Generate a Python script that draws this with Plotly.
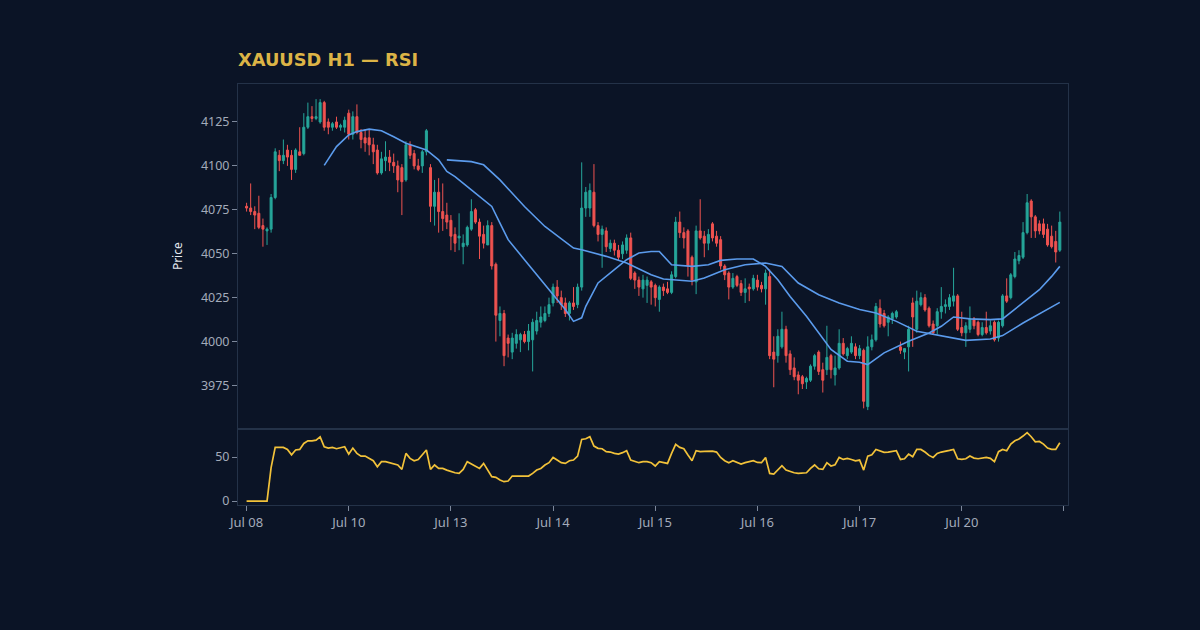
import plotly.graph_objects as go
from plotly.subplots import make_subplots

# hourly candles, indexed 0..199
opens = [4077, 4076, 4074, 4073, 4066, 4063, 4064, 4082, 4106, 4103,
         4109, 4106, 4098, 4108, 4107, 4122, 4128, 4127, 4125, 4136,
         4125, 4122, 4125, 4122, 4122, 4130, 4118, 4128, 4119, 4116,
         4116, 4112, 4109, 4096, 4103, 4105, 4102, 4100, 4099, 4092,
         4112, 4107, 4100, 4100, 4108, 4099, 4077, 4085, 4074, 4072,
         4069, 4061, 4059, 4054, 4055, 4064, 4075, 4068, 4061, 4055,
         4066, 4044, 4012, 4016, 4002, 3994, 3999, 4001, 4004, 4000,
         4001, 4006, 4011, 4012, 4016, 4022, 4031, 4025, 4022, 4016,
         4022, 4021, 4031, 4076, 4076, 4085, 4066, 4061, 4063, 4053,
         4056, 4052, 4050, 4052, 4059, 4039, 4035, 4030, 4032, 4034,
         4032, 4024, 4031, 4030, 4028, 4037, 4068, 4062, 4063, 4048,
         4034, 4063, 4060, 4056, 4067, 4060, 4058, 4043, 4039, 4031,
         4037, 4033, 4028, 4031, 4030, 4035, 4032, 4030, 4037, 3994,
         3992, 3997, 4007, 3993, 3985, 3981, 3980, 3977, 3978, 3986,
         3994, 3984, 3984, 3992, 3981, 3985, 3999, 3992, 3994, 3997,
         3992, 3995, 3963, 3997, 4001, 4019, 4016, 4011, 4013, 4014,
         3997, 3994, 3997, 4022, 4007, 4021, 4025, 4019, 4010, 4009,
         4017, 4020, 4020, 4023, 4026, 4008, 4005, 4007, 4013, 4011,
         4004, 4008, 4006, 4011, 4002, 4009, 4026, 4025, 4037, 4046,
         4048, 4062, 4080, 4071, 4067, 4067, 4064, 4060, 4057, 4052]
highs = [4079, 4090, 4077, 4083, 4070, 4065, 4084, 4110, 4109, 4115,
         4112, 4109, 4110, 4122, 4130, 4136, 4134, 4138, 4138, 4137,
         4127, 4125, 4128, 4124, 4128, 4132, 4131, 4135, 4121, 4121,
         4121, 4116, 4112, 4108, 4114, 4109, 4107, 4103, 4101, 4114,
         4114, 4109, 4104, 4109, 4121, 4101, 4092, 4093, 4090, 4079,
         4072, 4065, 4073, 4061, 4066, 4081, 4076, 4070, 4066, 4069,
         4068, 4045, 4020, 4018, 4004, 4005, 4007, 4005, 4006, 4010,
         4013, 4017, 4020, 4020, 4025, 4033, 4035, 4029, 4025, 4023,
         4031, 4033, 4102, 4088, 4090, 4101, 4068, 4066, 4065, 4058,
         4058, 4055, 4057, 4061, 4062, 4040, 4037, 4038, 4037, 4035,
         4033, 4032, 4033, 4034, 4040, 4071, 4074, 4065, 4064, 4049,
         4066, 4081, 4063, 4064, 4068, 4063, 4060, 4044, 4040, 4039,
         4038, 4035, 4036, 4033, 4038, 4038, 4034, 4041, 4041, 4003,
         4007, 4017, 4009, 3995, 3991, 3983, 3981, 3980, 3987, 3993,
         3995, 3988, 4009, 3993, 3992, 4007, 4002, 3997, 4003, 3999,
         3998, 3996, 4003, 4004, 4022, 4024, 4018, 4015, 4017, 4018,
         4000, 3996, 4009, 4025, 4029, 4028, 4027, 4020, 4012, 4019,
         4031, 4024, 4027, 4042, 4027, 4017, 4011, 4020, 4014, 4012,
         4011, 4017, 4012, 4012, 4012, 4027, 4036, 4039, 4051, 4052,
         4068, 4084, 4081, 4072, 4069, 4070, 4067, 4066, 4063, 4074]
lows = [4074, 4072, 4064, 4064, 4054, 4055, 4062, 4081, 4097, 4101,
        4100, 4092, 4096, 4106, 4106, 4121, 4125, 4126, 4124, 4120,
        4118, 4120, 4121, 4120, 4119, 4115, 4115, 4118, 4110, 4108,
        4106, 4101, 4095, 4095, 4097, 4097, 4096, 4085, 4072, 4091,
        4104, 4098, 4097, 4096, 4106, 4068, 4066, 4062, 4063, 4064,
        4052, 4051, 4052, 4044, 4054, 4063, 4067, 4047, 4053, 4055,
        4041, 4000, 4003, 3986, 3991, 3990, 3996, 3994, 3999, 3995,
        3983, 4004, 4008, 4011, 4014, 4020, 4022, 4018, 4014, 4012,
        4018, 4019, 4029, 4071, 4071, 4065, 4057, 4042, 4051, 4051,
        4049, 4046, 4047, 4050, 4035, 4030, 4026, 4025, 4022, 4021,
        4020, 4017, 4026, 4027, 4027, 4036, 4059, 4053, 4037, 4032,
        4027, 4058, 4048, 4052, 4057, 4054, 4041, 4035, 4024, 4030,
        4031, 4026, 4022, 4023, 4029, 4029, 4028, 4021, 3990, 3974,
        3988, 3996, 3988, 3981, 3978, 3970, 3973, 3973, 3977, 3984,
        3981, 3971, 3981, 3979, 3975, 3984, 3992, 3990, 3993, 3990,
        3990, 3962, 3961, 3995, 4000, 4008, 4008, 4003, 4010, 4013,
        3993, 3990, 3983, 3997, 4005, 4020, 4017, 4008, 4004, 4004,
        4013, 4016, 4018, 4020, 4006, 4003, 3997, 4005, 4007, 4003,
        4003, 4004, 4004, 4000, 4000, 4008, 4022, 4024, 4036, 4044,
        4047, 4061, 4059, 4059, 4061, 4059, 4054, 4053, 4045, 4051]
closes = [4076, 4074, 4072, 4065, 4064, 4064, 4082, 4108, 4103, 4106,
          4105, 4098, 4109, 4106, 4122, 4128, 4127, 4128, 4136, 4122,
          4122, 4124, 4122, 4123, 4126, 4118, 4128, 4119, 4115, 4113,
          4112, 4108, 4096, 4104, 4105, 4102, 4100, 4092, 4091, 4112,
          4106, 4100, 4098, 4108, 4120, 4077, 4085, 4074, 4070, 4068,
          4060, 4056, 4060, 4056, 4065, 4074, 4068, 4060, 4056, 4066,
          4043, 4015, 4016, 3992, 3999, 4002, 4004, 4004, 4000, 4006,
          4011, 4012, 4014, 4016, 4021, 4031, 4026, 4021, 4016, 4022,
          4020, 4031, 4076, 4085, 4086, 4066, 4061, 4064, 4054, 4056,
          4052, 4048, 4055, 4059, 4036, 4035, 4031, 4035, 4035, 4031,
          4025, 4031, 4029, 4028, 4038, 4068, 4062, 4059, 4043, 4035,
          4063, 4059, 4056, 4061, 4059, 4056, 4043, 4038, 4031, 4036,
          4032, 4028, 4030, 4030, 4036, 4031, 4030, 4039, 3992, 3990,
          4003, 4007, 3992, 3984, 3980, 3978, 3976, 3979, 3986, 3992,
          3983, 3978, 3991, 3984, 3985, 3999, 3993, 3996, 3999, 3992,
          3996, 3966, 3997, 4001, 4020, 4010, 4009, 4014, 4016, 4017,
          3995, 3996, 4007, 4014, 4023, 4025, 4018, 4009, 4005, 4017,
          4020, 4021, 4025, 4026, 4007, 4005, 4009, 4013, 4009, 4004,
          4008, 4005, 4009, 4001, 4011, 4026, 4023, 4038, 4047, 4049,
          4062, 4079, 4071, 4063, 4063, 4061, 4055, 4054, 4051, 4068]

# moving averages (index, price)
ma_fast_idx = [19, 22, 25, 27, 30, 33, 36, 39, 44, 47, 49, 51, 55, 60, 62, 64,
               68, 72, 76, 78, 80, 82, 83, 86, 90, 93, 96, 99, 101, 104, 109,
               113, 116, 120, 124, 127, 130, 133, 137, 140, 143, 147, 150, 152,
               156, 162, 167, 170, 173, 177, 182, 185, 190, 194, 197, 199]
ma_fast = [4100.3, 4111, 4117.6, 4119.5, 4120.9, 4120, 4116.6, 4112.9, 4109.1,
           4103.4, 4096.8, 4093.9, 4086.4, 4076.9, 4067.4, 4058, 4046.6, 4035.2,
           4023.9, 4018.2, 4011.5, 4013.5, 4020.1, 4033.4, 4040.9, 4046.6,
           4050.4, 4051.3, 4051.3, 4043.7, 4042.8, 4043.7, 4046.2, 4047, 4047,
           4042.8, 4035.2, 4025.7, 4014.4, 4005, 3995.5, 3988.8, 3988.2, 3986.9,
           3993.6, 4000.2, 4004.9, 4008.7, 4014, 4012.9, 4012.5, 4012.9, 4022,
           4029.5, 4037.1, 4042.8]
ma_slow_idx = [49, 55, 58, 62, 68, 73, 80, 82, 88, 93, 99, 102, 109, 112, 117,
               122, 127, 131, 135, 140, 145, 150, 154, 159, 164, 170, 176, 182,
               185, 190, 195, 199]
ma_slow = [4103.4, 4102.4, 4100.6, 4092, 4076.9, 4065.5, 4053.2, 4052.3, 4048.5,
           4044.7, 4038.1, 4035.6, 4034.3, 4036.2, 4040.9, 4043.7, 4044.7, 4042.8,
           4033.3, 4026.7, 4022, 4018.2, 4016.3, 4011.5, 4005.9, 4003.4, 4000.7,
           4001.5, 4003.4, 4010.6, 4017.2, 4022.3]

rsi = [0, 0, 0, 0, 0, 0, 38, 61, 61, 61,
       58.7, 52.6, 58, 58.7, 65.5, 68.5, 68.5, 69.3, 73, 61.7,
       60.2, 61, 59.5, 61, 61.7, 53.4, 60.2, 54.2, 51.1, 51.1,
       48.5, 45.8, 39, 44.7, 44.7, 43.6, 42.8, 41, 36, 54.2,
       48.5, 45.8, 47.3, 52.3, 58, 36, 41, 37.1, 37.1, 35.2,
       33.3, 32.2, 31.4, 36, 44.7, 42, 39, 37.1, 42.8, 35.2,
       27.7, 26.9, 23.9, 22, 22.7, 28.4, 28.4, 28.4, 28.4, 28.4,
       31.4, 35.2, 37.1, 41, 43.6, 49.6, 46.6, 43.6, 42.8, 45.8,
       46.6, 51.1, 70.1, 70.8, 73.1, 62.5, 59.9, 59.5, 56.1, 55.7,
       54.2, 53.4, 55, 57.2, 46.6, 45.1, 43.6, 44.7, 44.7, 43.6,
       39.8, 44.7, 43.9, 42.8, 54.2, 64.4, 61, 59.5, 52.3, 45.8,
       57.2, 56.1, 56.4, 56.8, 56.8, 55.7, 49.6, 45.8, 43.6, 45.8,
       43.6, 42.1, 43.6, 45.1, 45.8, 43.9, 43.6, 49.6, 31.4, 30.7,
       35.2, 40.2, 35.2, 33.3, 32.2, 31.4, 31.4, 32.2, 37.1, 41,
       36.7, 36, 43.6, 39.8, 41.3, 49.6, 47.3, 48.5, 47.3, 45.8,
       46.6, 35.2, 51.1, 52.7, 58.7, 57.2, 55.3, 55.7, 56.4, 57.2,
       47.3, 48.1, 53.4, 50.4, 58.7, 58.7, 55.7, 51.9, 49.6, 54.2,
       55.7, 56.4, 57.6, 58.7, 48.1, 47.3, 48.1, 51.1, 48.8, 48.1,
       48.5, 49.6, 48.5, 44.7, 56.1, 58.7, 57.2, 64.8, 68.5, 70.5,
       73.9, 77.7, 73.1, 67.4, 67.8, 64.8, 60.2, 58.7, 58.7, 66.3]

tick_idx = [0, 25, 50, 75, 100, 125, 150, 175, 200]
tick_text = ["Jul 08", "Jul 10", "Jul 13", "Jul 14", "Jul 15", "Jul 16", "Jul 17", "Jul 20", ""]

bg = "#0b1426"
axis_col = "#243248"
tick_col = "#a3abba"

x = list(range(len(closes)))

fig = make_subplots(rows=2, cols=1, shared_xaxes=True, vertical_spacing=0.004,
                    row_heights=[0.82, 0.18])

fig.add_trace(go.Candlestick(x=x, open=opens, high=highs, low=lows, close=closes,
                             increasing=dict(line=dict(color="#26a69a", width=1), fillcolor="#26a69a"),
                             decreasing=dict(line=dict(color="#ef5350", width=1), fillcolor="#ef5350"),
                             whiskerwidth=0, name="XAUUSD"),
              row=1, col=1)
fig.add_trace(go.Scatter(x=ma_fast_idx, y=ma_fast, mode="lines",
                         line=dict(color="#5b9bec", width=1.6), name="MA fast"),
              row=1, col=1)
fig.add_trace(go.Scatter(x=ma_slow_idx, y=ma_slow, mode="lines",
                         line=dict(color="#5b9bec", width=1.6), name="MA slow"),
              row=1, col=1)
fig.add_trace(go.Scatter(x=x, y=rsi, mode="lines",
                         line=dict(color="#f2c23a", width=1.7), name="RSI"),
              row=2, col=1)

fig.update_layout(
    width=1200, height=630,
    paper_bgcolor=bg, plot_bgcolor=bg,
    margin=dict(l=238, r=132, t=84, b=125),
    showlegend=False,
    title=dict(text="<b>XAUUSD H1 — RSI</b>", x=0, xref="paper", xanchor="left",
               y=1 - 60 / 630, yref="container", yanchor="middle",
               font=dict(family="DejaVu Sans", size=17.8, color="#dcb446")),
)

fig.update_xaxes(range=[-2.1, 201], showgrid=False, zeroline=False,
                 showline=True, linecolor=axis_col, mirror=True)
fig.update_xaxes(showticklabels=False, ticks="", rangeslider_visible=False, row=1, col=1)
fig.update_xaxes(tickmode="array", tickvals=tick_idx, ticktext=tick_text,
                 ticks="outside", ticklen=5, tickcolor="#7d889b",
                 tickfont=dict(family="Noto Sans", size=13, color=tick_col),
                 row=2, col=1)

fig.update_yaxes(showgrid=False, zeroline=False, showline=True, linecolor=axis_col, mirror=True,
                 ticks="outside", ticklen=5, tickcolor="#7d889b",
                 tickfont=dict(family="Noto Sans", size=12.5, color=tick_col))
fig.update_yaxes(range=[3950.6, 4146.6], tickvals=[3975, 4000, 4025, 4050, 4075, 4100, 4125],
                 title=dict(text="Price", font=dict(family="Noto Sans", size=12, color="#e4e8ee")),
                 domain=[0.182, 1], row=1, col=1)
fig.update_yaxes(range=[-4.5, 80.7], tickvals=[0, 50], domain=[0, 0.178], row=2, col=1)

fig.write_html("out.html", config={"displayModeBar": False},
               post_script="document.body.style.margin='0';")
